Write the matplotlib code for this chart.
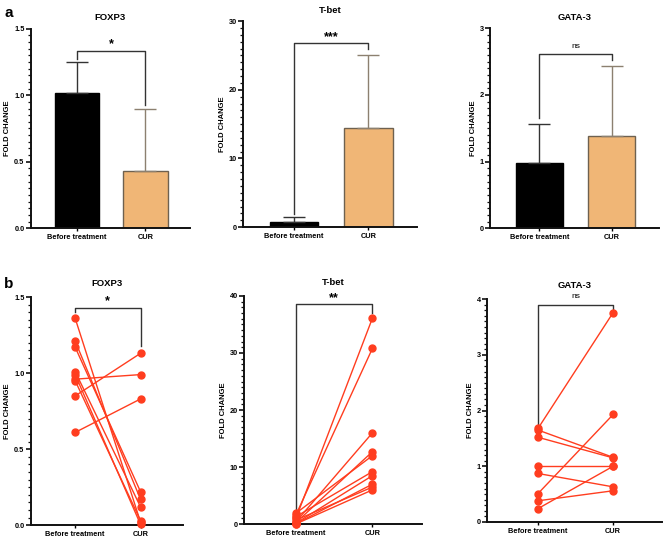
import matplotlib
matplotlib.use("Agg")
import matplotlib.pyplot as plt
from matplotlib.ticker import MultipleLocator

plt.rcParams['font.family'] = ['Liberation Sans', 'DejaVu Sans']
plt.rcParams['font.weight'] = 'bold'

groups = ["Before treatment", "CUR"]
genes = ["FOXP3", "T-bet", "GATA-3"]

# panel a: mean and upper error
bar_means = {"FOXP3": [1.02, 0.43], "T-bet": [0.7, 14.5], "GATA-3": [0.98, 1.39]}
bar_errs = {"FOXP3": [0.23, 0.47], "T-bet": [0.75, 10.6], "GATA-3": [0.59, 1.05]}
bar_ymax = {"FOXP3": 1.5, "T-bet": 30, "GATA-3": 3}
bar_major = {"FOXP3": 0.5, "T-bet": 10, "GATA-3": 1}
bar_minor = {"FOXP3": 0.05, "T-bet": 1, "GATA-3": 0.1}
bar_sig = {"FOXP3": "*", "T-bet": "***", "GATA-3": "ns"}
# bracket: height, left leg bottom, right leg bottom
bar_bracket = {"FOXP3": (1.335, 1.27, 0.93), "T-bet": (26.8, 1.9, 26.0),
               "GATA-3": (2.62, 1.65, 2.52)}

# panel b: paired values
before = {
    "FOXP3": [1.36, 1.21, 1.17, 1.01, 0.99, 0.96, 0.95, 0.85, 0.61],
    "T-bet": [1.9, 1.6, 1.3, 1.0, 0.7, 0.4, 0.25, 0.15, 0.08, 0.03],
    "GATA-3": [1.68, 1.65, 1.52, 1.01, 0.87, 0.51, 0.38, 0.24],
}
after = {
    "FOXP3": [0.02, 0.17, 0.22, 0.12, 0.005, 0.99, 0.03, 1.13, 0.83],
    "T-bet": [12.0, 30.8, 9.2, 36.1, 6.5, 16.0, 12.7, 8.5, 7.0, 6.0],
    "GATA-3": [3.76, 1.16, 1.15, 1.01, 0.63, 1.93, 0.56, 1.00],
}
pt_ymax = {"FOXP3": 1.5, "T-bet": 40, "GATA-3": 4}
pt_major = {"FOXP3": 0.5, "T-bet": 10, "GATA-3": 1}
pt_minor = {"FOXP3": 0.05, "T-bet": 1, "GATA-3": 0.1}
pt_sig = {"FOXP3": "*", "T-bet": "**", "GATA-3": "ns"}
pt_bracket = {"FOXP3": (1.43, 1.40, 1.18), "T-bet": (38.5, 2.3, 37.0),
              "GATA-3": (3.9, 1.75, 3.82)}

fig = plt.figure(figsize=(6.68, 5.42), dpi=100)

a_rects = [(0.046, 0.579, 0.238, 0.368), (0.364, 0.581, 0.26, 0.38),
           (0.7335, 0.579, 0.253, 0.369)]
b_rects = [(0.046, 0.031, 0.228, 0.421), (0.365, 0.033, 0.267, 0.421),
           (0.729, 0.037, 0.262, 0.411)]

red = "#ff3d1f"


def style(ax, ymax, major, minor):
    ax.set_ylim(0, ymax)
    ax.set_xlim(-0.68, 1.65)
    for s in ("top", "right"):
        ax.spines[s].set_visible(False)
    for s in ("left", "bottom"):
        ax.spines[s].set_linewidth(1.4)
        ax.spines[s].set_color("#111111")
    ax.yaxis.set_major_locator(MultipleLocator(major))
    ax.yaxis.set_minor_locator(MultipleLocator(minor))
    ax.tick_params(axis="y", which="major", length=3.5, width=1.2, labelsize=5.3,
                   pad=1, color="#111111")
    ax.tick_params(axis="y", which="minor", length=2.2, width=0.9, color="#111111")
    ax.tick_params(axis="x", length=2, width=1, labelsize=5.3, pad=2)
    ax.set_xticks([0, 1])
    ax.set_xticklabels(groups, fontweight="bold")
    for lab in ax.get_yticklabels():
        lab.set_fontweight("bold")
    ax.set_ylabel("FOLD CHANGE", fontsize=5.5, fontweight="bold", labelpad=2)


def bracket(ax, h, l, r, txt, ymax):
    ax.plot([0, 0, 1, 1], [l, h, h, r], color="#333333", lw=1.0, clip_on=False)
    size = 9 if "*" in txt else 6
    off = 0.0 if "*" in txt else 0.02 * ymax
    ax.text(0.5, h + off, txt, ha="center", va="bottom", fontsize=size,
            fontweight="bold" if "*" in txt else "normal")


for rect, g in zip(a_rects, genes):
    ax = fig.add_axes(rect)
    style(ax, bar_ymax[g], bar_major[g], bar_minor[g])
    m = bar_means[g]
    e = bar_errs[g]
    ax.bar([0], [m[0]], width=0.65, color="black", edgecolor="black", lw=1)
    ax.bar([1], [m[1]], width=0.65, color="#f0b676", edgecolor="#6e6150", lw=1)
    ax.errorbar([0], [m[0]], yerr=[[0], [e[0]]], fmt="none", ecolor="#333333",
                elinewidth=1, capsize=8, capthick=1)
    ax.errorbar([1], [m[1]], yerr=[[0], [e[1]]], fmt="none", ecolor="#8c8070",
                elinewidth=1, capsize=8, capthick=1)
    ax.set_title(g, fontsize=6.8, fontweight="bold", pad=6)
    bracket(ax, *bar_bracket[g], bar_sig[g], bar_ymax[g])

for rect, g in zip(b_rects, genes):
    ax = fig.add_axes(rect)
    style(ax, pt_ymax[g], pt_major[g], pt_minor[g])
    for b0, a1 in zip(before[g], after[g]):
        ax.plot([0, 1], [b0, a1], color=red, lw=1.0, marker="o", ms=5,
                mfc=red, mec=red, clip_on=False, zorder=3)
    ax.set_title(g, fontsize=6.8, fontweight="bold", pad=8)
    bracket(ax, *pt_bracket[g], pt_sig[g], pt_ymax[g])

fig.text(0.006, 0.968, "a", fontsize=11, fontweight="bold")
fig.text(0.006, 0.468, "b", fontsize=11, fontweight="bold")

fig.savefig("out.png", dpi=100)
